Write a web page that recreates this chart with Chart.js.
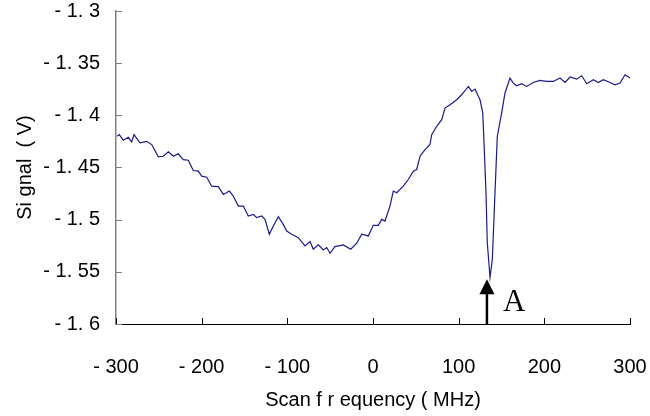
<!DOCTYPE html>
<html>
<head>
<meta charset="utf-8">
<script src="https://cdn.jsdelivr.net/npm/chart.js@4/dist/chart.umd.min.js"></script>
<style>
  html, body { margin: 0; padding: 0; background: #ffffff; }
  #wrap { width: 650px; height: 416px; }
</style>
</head>
<body>
<div id="wrap"><canvas id="chart" width="650" height="416"></canvas></div>
<script>
// Scan frequency (MHz) and measured signal (V)
const freqMHz = [
  -298.8, -296.1, -291.5, -285.6, -281.7, -279.0, -272.0, -264.2, -258.3, -250.6,
  -244.8, -238.9, -233.1, -227.3, -221.4, -215.6, -209.8, -203.9, -200.0, -194.1,
  -188.3, -180.6, -174.7, -167.7, -163.1, -157.2, -151.4, -145.6, -139.7, -135.8,
  -129.9, -126.1, -121.0, -116.4, -110.5, -104.7, -100.7, -94.9, -87.2, -79.4,
  -73.5, -69.7, -63.8, -58.0, -54.0, -50.2, -44.4, -34.7, -26.0, -19.0,
  -13.2, -5.5, 0.4, 6.2, 10.2, 14.0, 19.8, 23.7, 27.7, 35.4,
  41.2, 47.1, 51.0, 54.9, 60.7, 66.5, 68.5, 74.4, 80.2, 84.1,
  89.9, 97.7, 103.5, 111.3, 115.2, 119.1, 124.9, 128.1, 129.6, 131.9,
  133.4, 136.6, 139.3, 142.4, 145.1, 150.2, 154.1, 159.9, 163.8, 167.7,
  173.6, 179.4, 187.1, 194.9, 202.8, 210.5, 218.3, 224.2, 230.0, 237.8,
  243.6, 249.5, 257.2, 263.0, 268.8, 276.7, 282.4, 288.3, 294.2, 300.0
];
const signalV = [
  -1.4201, -1.4185, -1.4239, -1.4211, -1.4254, -1.4185, -1.4264, -1.4249, -1.4280, -1.4398,
  -1.4392, -1.4350, -1.4392, -1.4369, -1.4424, -1.4430, -1.4529, -1.4535, -1.4583, -1.4593,
  -1.4679, -1.4684, -1.4758, -1.4726, -1.4774, -1.4870, -1.4870, -1.4965, -1.4949, -1.4981,
  -1.4965, -1.4997, -1.5140, -1.5061, -1.4971, -1.5045, -1.5109, -1.5140, -1.5172, -1.5252,
  -1.5210, -1.5283, -1.5242, -1.5290, -1.5267, -1.5322, -1.5258, -1.5242, -1.5283, -1.5226,
  -1.5140, -1.5156, -1.5054, -1.5054, -1.4997, -1.5013, -1.4870, -1.4726, -1.4742, -1.4679,
  -1.4615, -1.4535, -1.4519, -1.4392, -1.4328, -1.4280, -1.4185, -1.4105, -1.4041, -1.3930,
  -1.3898, -1.3850, -1.3803, -1.3723, -1.3771, -1.3748, -1.3850, -1.3977, -1.4264, -1.4742,
  -1.5219, -1.5554, -1.5379, -1.4742, -1.4201, -1.3977, -1.3786, -1.3643, -1.3691, -1.3717,
  -1.3697, -1.3723, -1.3685, -1.3666, -1.3675, -1.3675, -1.3643, -1.3685, -1.3633, -1.3653,
  -1.3621, -1.3697, -1.3659, -1.3685, -1.3659, -1.3685, -1.3707, -1.3691, -1.3611, -1.3643
];

// Axis tick values and their printed labels
const xTickValues = [-300, -200, -100, 0, 100, 200, 300];
const xTickLabels = ['- 300', '- 200', '- 100', '0', '100', '200', '300'];
const yTickValues = [-1.6, -1.55, -1.5, -1.45, -1.4, -1.35, -1.3];
const yTickLabels = ['- 1. 6', '- 1. 55', '- 1. 5', '- 1. 45', '- 1. 4', '- 1. 35', '- 1. 3'];

// Marker "A" pointing at the absorption dip
const markerFreq = 133;
const markerTipV = -1.557;
const markerText = 'A';

const labelFont = { family: '"Liberation Sans", Arial, sans-serif', size: 20 };

function nearestLabel(values, labels, v) {
  let best = 0;
  for (let i = 1; i < values.length; i++) {
    if (Math.abs(values[i] - v) < Math.abs(values[best] - v)) best = i;
  }
  return Math.abs(values[best] - v) < 1e-6 ? labels[best] : '';
}

// Short tick marks pointing into the plot area, plus the arrow annotation
const innerTicks = {
  id: 'innerTicks',
  afterDatasetsDraw(chart) {
    const { ctx, scales: { x, y } } = chart;
    ctx.save();
    ctx.lineWidth = 1;
    ctx.strokeStyle = '#808080';
    yTickValues.forEach(v => {
      const py = Math.round(y.getPixelForValue(v)) + 0.5;
      ctx.beginPath();
      ctx.moveTo(x.left, py);
      ctx.lineTo(x.left + 6, py);
      ctx.stroke();
    });
    ctx.strokeStyle = '#000000';
    xTickValues.forEach(v => {
      const px = Math.round(x.getPixelForValue(v)) + 0.5;
      ctx.beginPath();
      ctx.moveTo(px, y.bottom);
      ctx.lineTo(px, y.bottom - 6);
      ctx.stroke();
    });

    // arrow
    const ax = x.getPixelForValue(markerFreq);
    const tipY = y.getPixelForValue(markerTipV);
    const baseY = y.bottom;
    ctx.fillStyle = '#000000';
    ctx.lineWidth = 2.5;
    ctx.beginPath();
    ctx.moveTo(ax, baseY);
    ctx.lineTo(ax, tipY + 12);
    ctx.stroke();
    ctx.beginPath();
    ctx.moveTo(ax, tipY);
    ctx.lineTo(ax - 7.5, tipY + 15);
    ctx.lineTo(ax + 7.5, tipY + 15);
    ctx.closePath();
    ctx.fill();

    ctx.font = '31px "Liberation Serif", "Times New Roman", serif';
    ctx.textAlign = 'left';
    ctx.textBaseline = 'alphabetic';
    ctx.fillText(markerText, ax + 16, tipY + 32);
    ctx.restore();
  }
};

new Chart(document.getElementById('chart'), {
  type: 'line',
  data: {
    datasets: [{
      data: freqMHz.map((f, i) => ({ x: f, y: signalV[i] })),
      borderColor: '#1a1a8a',
      borderWidth: 1.2,
      pointRadius: 0,
      tension: 0,
      fill: false
    }]
  },
  options: {
    responsive: false,
    animation: false,
    devicePixelRatio: 1,
    layout: { autoPadding: false, padding: { top: 11, right: 20, left: 0, bottom: 0 } },
    plugins: { legend: { display: false }, tooltip: { enabled: false } },
    scales: {
      x: {
        type: 'linear',
        min: -300,
        max: 300,
        grid: { display: false, drawTicks: false },
        border: { display: true, color: '#000000', width: 1 },
        ticks: {
          stepSize: 100,
          padding: 31,
          color: '#000000',
          font: labelFont,
          maxRotation: 0,
          callback: v => nearestLabel(xTickValues, xTickLabels, v)
        },
        title: {
          display: true,
          text: 'Scan f r equency ( MHz)',
          color: '#000000',
          font: labelFont,
          padding: { top: 4, bottom: 4 }
        },
        afterFit(scale) {
          scale.height = 92;
          scale.paddingLeft = 0;
          scale.paddingRight = 0;
        }
      },
      y: {
        type: 'linear',
        min: -1.6,
        max: -1.3,
        grid: { display: false, drawTicks: false },
        border: { display: true, color: '#808080', width: 1.5 },
        ticks: {
          stepSize: 0.05,
          padding: 16,
          color: '#000000',
          font: labelFont,
          callback: v => nearestLabel(yTickValues, yTickLabels, v)
        },
        title: {
          display: true,
          text: 'Si gnal  ( V)',
          color: '#000000',
          font: labelFont,
          padding: { top: 13, bottom: 0 }
        },
        afterFit(scale) {
          scale.width = 116;
          scale.paddingTop = 0;
          scale.paddingBottom = 0;
        }
      }
    }
  },
  plugins: [innerTicks]
});
</script>
</body>
</html>
